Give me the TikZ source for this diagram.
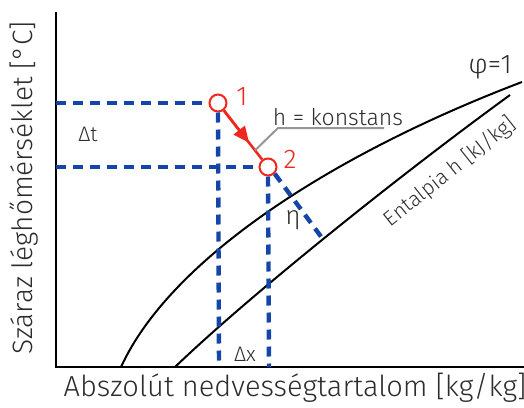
\documentclass[tikz,border=0pt]{standalone}
\usepackage{fontspec}
\setmainfont{Fira Sans Light}
\usetikzlibrary{arrows.meta,calc}
\definecolor{DiagBlue}{RGB}{20,70,170}
\definecolor{DiagRed}{RGB}{238,40,30}
\definecolor{DiagGray}{RGB}{150,150,150}
\definecolor{DiagText}{RGB}{45,45,45}
\tikzset{
  tengely/.style={line width=1.4pt, black},
  gorbe/.style={line width=1pt, black},
  szaggatott/.style={line width=2.2pt, DiagBlue, dash pattern=on 5pt off 3.5pt},
  allapot/.style={circle, draw=DiagRed, line width=1pt, fill=white, minimum size=8.5pt, inner sep=0pt},
  piros/.style={line width=1.3pt, DiagRed},
  felirat/.style={font=\fontsize{10.5}{12}\selectfont, text=DiagText, inner sep=1pt},
  pirosfel/.style={font=\fontsize{13.5}{15}\selectfont, text=DiagRed, inner sep=1pt},
}

\begin{document}
\begin{tikzpicture}[x=0.5pt, y=-0.5pt]
  \useasboundingbox (0,0) rectangle (524,407);

  % Tengelyek
  \coordinate (ytop) at (56,12);
  \coordinate (orig) at (56,367);
  \coordinate (xend) at (524,367);
  \draw[tengely] (ytop) -- (orig) -- (xend);
  \node[font=\fontsize{14}{16}\selectfont, text=DiagText, rotate=90] (ylab) at (24,188) {Száraz léghőmérséklet [°C]};
  \node[font=\fontsize{14.5}{16}\selectfont, text=DiagText] (xlab) at (295,388) {Abszolút nedvességtartalom [kg/kg]};

  % Telítési görbe és entalpia vonal
  \draw[gorbe] (121,367) .. controls (170,260) and (330,155) .. (522,82);
  \draw[gorbe] (175,367) .. controls (250,295) and (400,175) .. (510,95);

  % Állapotpontok és segédpontok
  \node[allapot] (p1) at (218,103) {};
  \node[allapot] (p2) at (268,167) {};
  \coordinate (t1) at (56,103);
  \coordinate (t2) at (56,167);
  \coordinate (x1) at (219,367);
  \coordinate (x2) at (269,367);
  \coordinate (hend) at (325,242);

  % Szaggatott segédvonalak
  \draw[szaggatott] (t1) -- (p1.west);
  \draw[szaggatott] (t2) -- (p2.west);
  \draw[szaggatott] (p1.south) -- (x1);
  \draw[szaggatott] (p2.south) -- (x2);
  \draw[szaggatott] (p2.south east) -- (hend);

  % Folyamat nyíl
  \draw[piros] (p1) -- (p2);
  \draw[piros, -{Triangle[length=8pt, width=7pt]}] (p1) -- ($(p1)!0.62!(p2)$);
  \node[pirosfel] (n1) at (242,97) {1};
  \node[pirosfel] (n2) at (290,159) {2};

  % h = konstans jelölés
  \coordinate (hk0) at ($(p1)!0.74!(p2)$);
  \coordinate (hk1) at (278,128);
  \coordinate (hk2) at (384,128);
  \draw[DiagGray, line width=1pt] (hk0) -- (hk1) -- (hk2);
  \node[felirat, anchor=south, font=\fontsize{11.5}{13}\selectfont] (hk) at (338,128) {h = konstans};

  % Feliratok
  \node[felirat] (dt) at (88,134) {Δt};
  \node[felirat] (dx) at (245,354) {Δx};
  \node[felirat, font=\fontsize{13}{14}\selectfont] (eta) at (293,220) {η};
  \node[felirat, font=\fontsize{13.5}{15}\selectfont] (phi) at (490,67) {φ=1};
  \node[felirat, rotate=38.5] (ent) at (450,172) {Entalpia h [kJ/kg]};
\end{tikzpicture}
\end{document}
